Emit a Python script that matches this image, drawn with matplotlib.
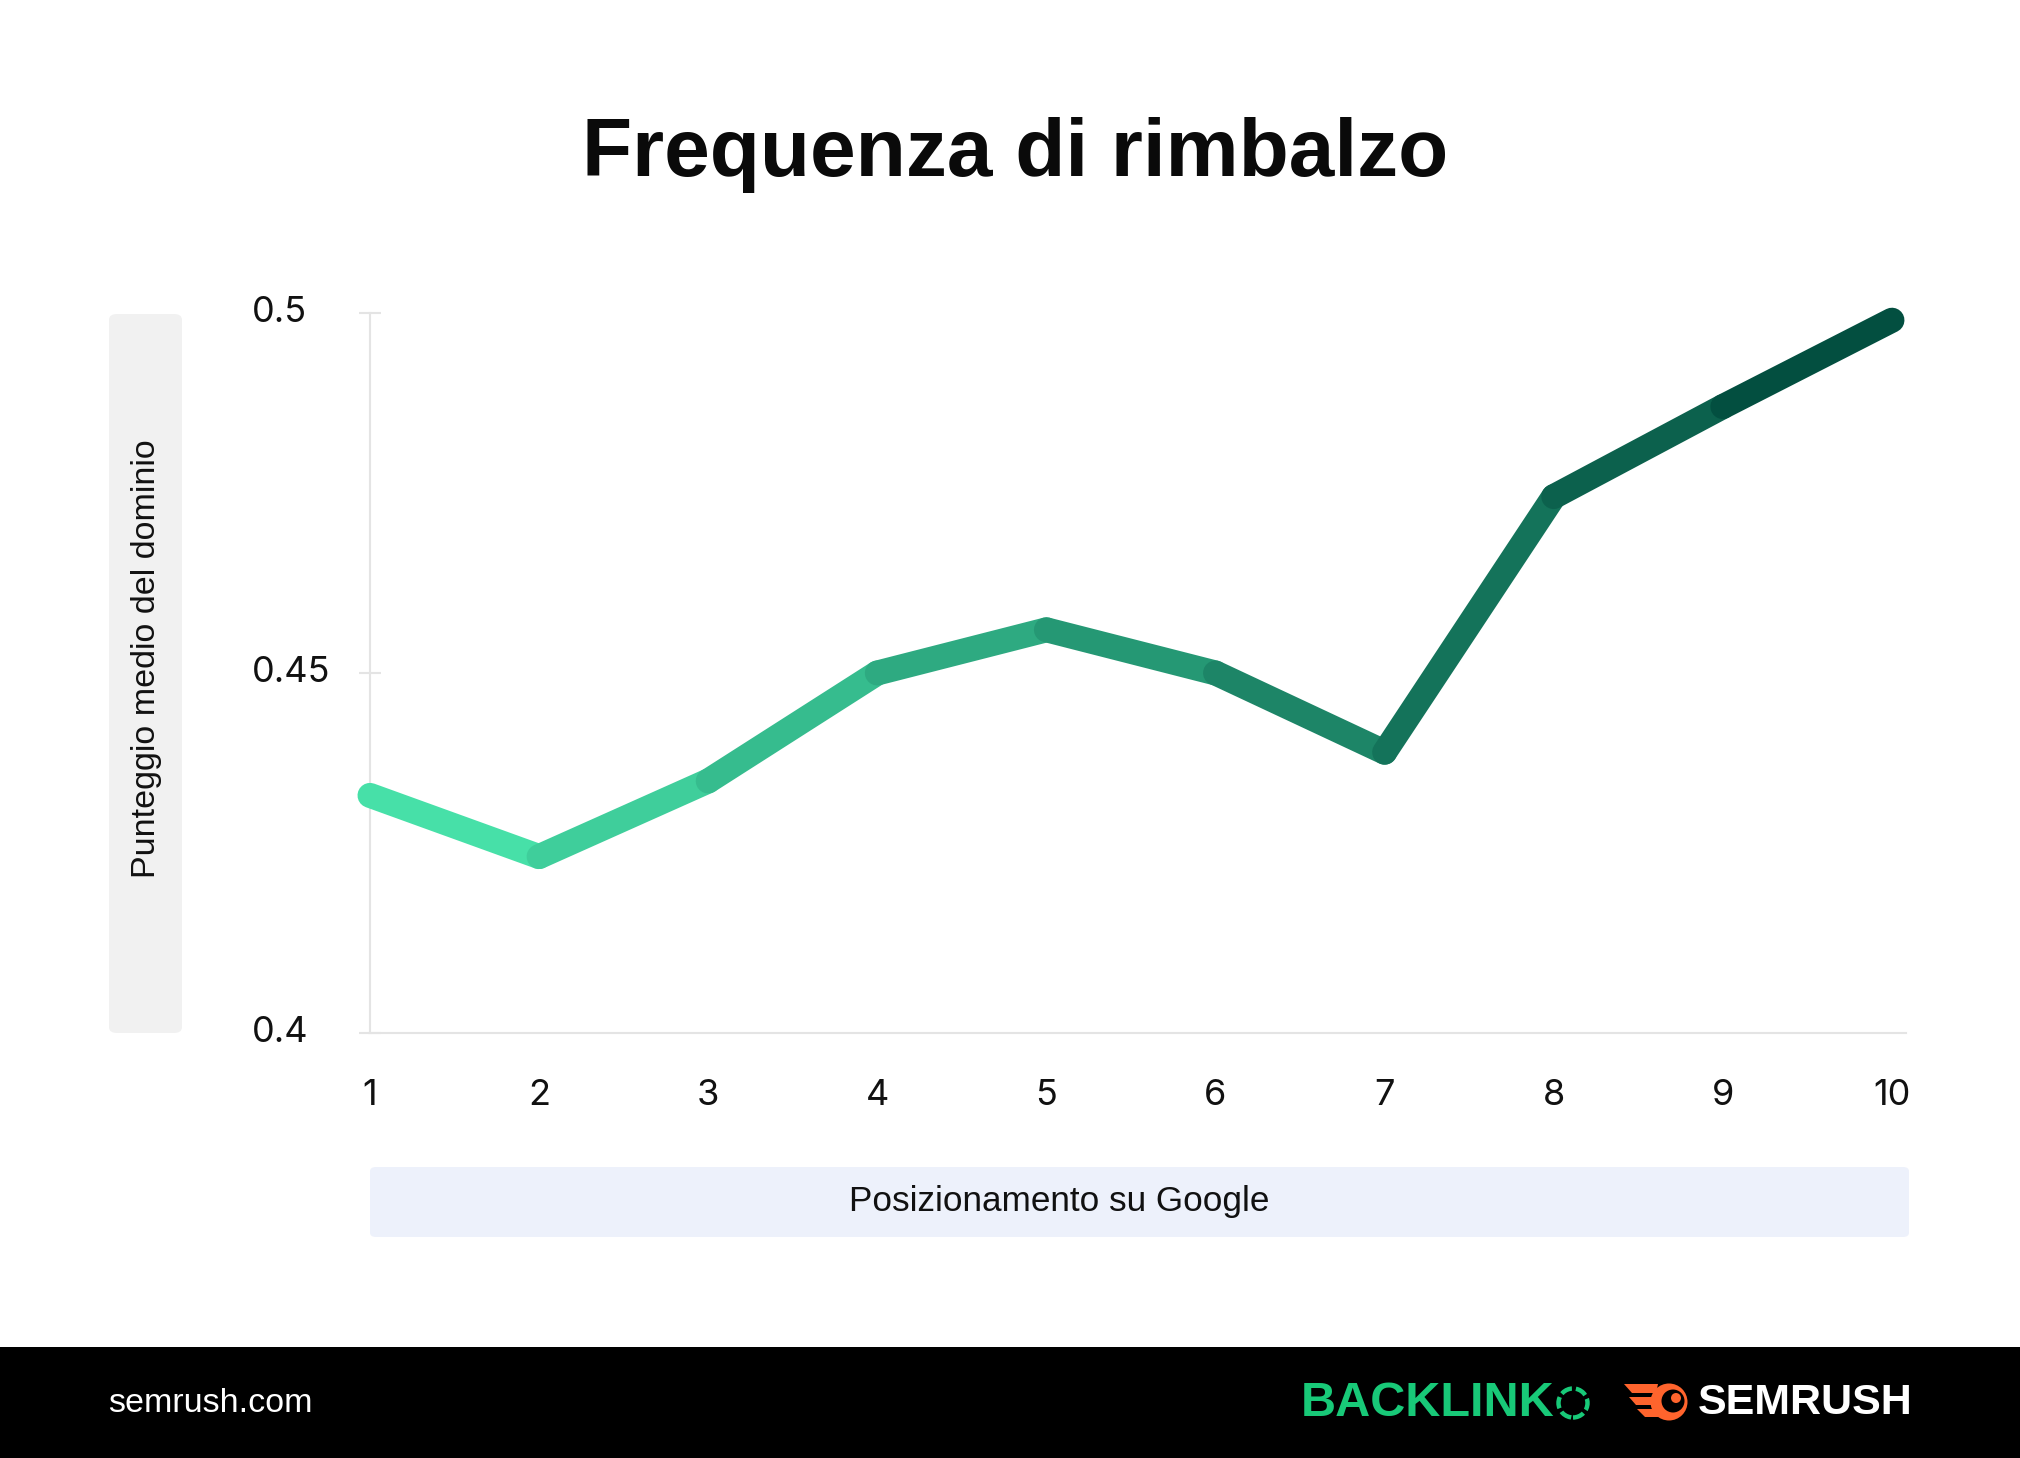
# Libraries
import numpy as np
import matplotlib.pyplot as plt
from matplotlib.colors import to_rgb
from matplotlib.patches import FancyBboxPatch, Rectangle, Circle, Polygon

# Data
positions = [1, 2, 3, 4, 5, 6, 7, 8, 9, 10]
bounce_rate = [0.433, 0.4245, 0.435, 0.450, 0.456, 0.450, 0.439, 0.4745, 0.487, 0.499]
y_ticks = [0.4, 0.45, 0.5]
y_tick_labels = ["0.4", "0.45", "0.5"]

title = "Frequenza di rimbalzo"
y_label = "Punteggio medio del dominio"
x_label = "Posizionamento su Google"

W, H = 2020, 1458
fig = plt.figure(figsize=(W / 100, H / 100), dpi=100)
fig.patch.set_facecolor("white")
plt.rcParams["font.family"] = ["Inter", "DejaVu Sans"]
arial = ["Liberation Sans", "DejaVu Sans"]


def fx(px):
    return px / W


def fy(py):
    return 1 - py / H


ax = fig.add_axes([fx(370), fy(1033), fx(1906 - 370), (1033 - 313) / H])
ax.set_facecolor("none")

# gradient line: one colour per segment
c0 = np.array(to_rgb("#47E0A8"))
c1 = np.array(to_rgb("#034F40"))
n = len(positions) - 1
for i in range(n):
    t = i / (n - 1)
    col = c0 + (c1 - c0) * t
    ax.plot(positions[i:i + 2], bounce_rate[i:i + 2], color=col, linewidth=18,
            solid_capstyle="round", solid_joinstyle="round", clip_on=False, zorder=3)

ax.set_xlim(1.04, 10.083)
ax.set_ylim(0.4, 0.5)

for s in ["top", "right"]:
    ax.spines[s].set_visible(False)
for s in ["left", "bottom"]:
    ax.spines[s].set_color("#e4e4e4")
    ax.spines[s].set_linewidth(1.5)

ax.set_yticks(y_ticks)
ax.set_yticklabels([])
ax.tick_params(axis="y", direction="inout", length=16, width=1.5, color="#e4e4e4")
for v, lab in zip(y_ticks, y_tick_labels):
    ax.text(-0.077, v, lab, transform=ax.get_yaxis_transform(), ha="left", va="center",
            fontsize=26, color="#111111")

ax.set_xticks(positions)
ax.set_xticklabels([str(p) for p in positions], fontsize=26, color="#111111")
ax.tick_params(axis="x", length=0, pad=33)

# title
fig.text(0.5025, fy(176), title, ha="center", va="baseline", fontsize=59,
         fontweight="bold", color="#0a0a0a", family=arial)

# y label box
fig.patches.append(FancyBboxPatch((fx(109), fy(1033)), fx(73), (1033 - 314) / H,
                                  boxstyle="round,pad=0,rounding_size=0.004",
                                  transform=fig.transFigure, facecolor="#f1f1f1",
                                  edgecolor="none", zorder=-1))
fig.text(fx(146), fy(659), y_label, rotation=90, ha="center", va="center",
         fontsize=24.5, color="#111111", family=arial)

# x label box
fig.patches.append(FancyBboxPatch((fx(370), fy(1237)), fx(1539), 70 / H,
                                  boxstyle="round,pad=0,rounding_size=0.003",
                                  transform=fig.transFigure, facecolor="#edf1fb",
                                  edgecolor="none", zorder=-1))
fig.text(fx(1059), fy(1202), x_label, ha="center", va="center",
         fontsize=25.3, color="#111111", family=arial)

# footer
fig.patches.append(Rectangle((0, 0), 1, 111 / H, transform=fig.transFigure,
                             facecolor="black", edgecolor="none", zorder=-1))
fig.text(fx(108), fy(1403), "semrush.com", ha="left", va="center",
         fontsize=24.5, color="white", family=arial)

fig.text(fx(1301), fy(1403), "BACKLINK", ha="left", va="center", fontsize=35,
         fontweight="heavy", color="#18c978", family=arial)

inch = fig.dpi_scale_trans


def px(x, y):
    return (x / 100, (H - y) / 100)


fig.patches.append(Circle(px(1573, 1403), 0.145, transform=inch, facecolor="none",
                          edgecolor="#18c978", linewidth=3.2,
                          linestyle=(0, (2.6, 0.9)), zorder=1))

# semrush icon (rough)
orange = "#ff642d"
fig.patches.append(Circle(px(1669, 1402), 0.185, transform=inch, facecolor=orange,
                          edgecolor="none", zorder=1))
fig.patches.append(Circle(px(1673, 1401), 0.115, transform=inch, facecolor="black",
                          edgecolor="none", zorder=1))
fig.patches.append(Circle(px(1676, 1398), 0.05, transform=inch, facecolor=orange,
                          edgecolor="none", zorder=1))
for pts in ([(1624, 1384), (1658, 1384), (1656, 1393), (1632, 1393)],
            [(1629, 1397), (1652, 1397), (1652, 1405), (1636, 1405)],
            [(1637, 1409), (1655, 1409), (1659, 1417), (1645, 1417)]):
    fig.patches.append(Polygon([px(a, b) for a, b in pts], transform=inch,
                               facecolor=orange, edgecolor="none", zorder=1))

fig.text(fx(1698), fy(1403), "SEMRUSH", ha="left", va="center", fontsize=31,
         fontweight="heavy", color="white", family=arial)

plt.savefig("out.png", dpi=100, facecolor=fig.get_facecolor())
